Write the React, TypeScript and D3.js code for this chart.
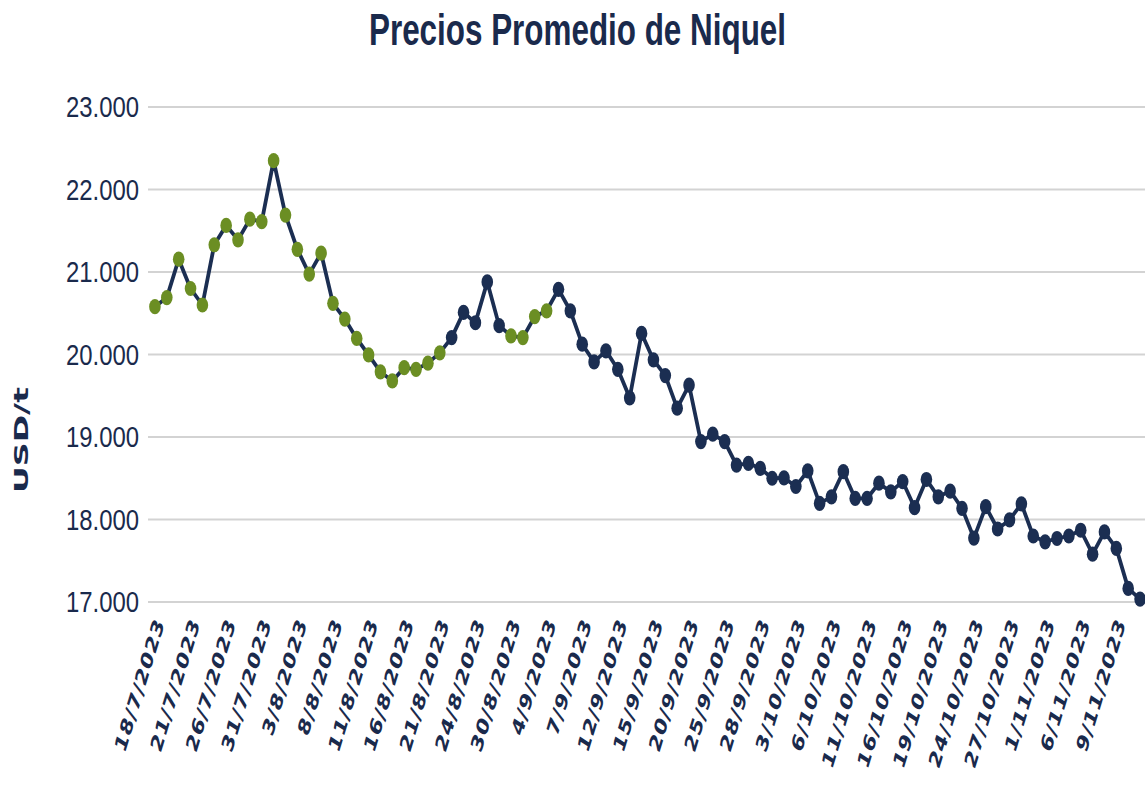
import React, { useEffect, useRef } from 'react';
import * as d3 from 'd3';

const dates = [
  '18/7/2023', '19/7/2023', '20/7/2023', '21/7/2023', '24/7/2023', '25/7/2023', '26/7/2023', '27/7/2023', '28/7/2023', '31/7/2023',
  '1/8/2023', '2/8/2023', '3/8/2023', '4/8/2023', '7/8/2023', '8/8/2023', '9/8/2023', '10/8/2023', '11/8/2023', '14/8/2023',
  '15/8/2023', '16/8/2023', '17/8/2023', '18/8/2023', '21/8/2023', '22/8/2023', '23/8/2023', '24/8/2023', '25/8/2023', '29/8/2023',
  '30/8/2023', '31/8/2023', '1/9/2023', '4/9/2023', '5/9/2023', '6/9/2023', '7/9/2023', '8/9/2023', '11/9/2023', '12/9/2023',
  '13/9/2023', '14/9/2023', '15/9/2023', '18/9/2023', '19/9/2023', '20/9/2023', '21/9/2023', '22/9/2023', '25/9/2023', '26/9/2023',
  '27/9/2023', '28/9/2023', '29/9/2023', '2/10/2023', '3/10/2023', '4/10/2023', '5/10/2023', '6/10/2023', '9/10/2023', '10/10/2023',
  '11/10/2023', '12/10/2023', '13/10/2023', '16/10/2023', '17/10/2023', '18/10/2023', '19/10/2023', '20/10/2023', '23/10/2023', '24/10/2023',
  '25/10/2023', '26/10/2023', '27/10/2023', '30/10/2023', '31/10/2023', '1/11/2023', '2/11/2023', '3/11/2023', '6/11/2023', '7/11/2023',
  '8/11/2023', '9/11/2023', '10/11/2023', '13/11/2023',
];

const prices = [
  20580, 20690, 21155, 20800, 20600, 21330, 21565, 21390, 21640, 21610,
  22350, 21690, 21275, 20975, 21230, 20620, 20430, 20195, 19995, 19790,
  19680, 19840, 19820, 19895, 20020, 20205, 20510, 20385, 20880, 20350,
  20225, 20205, 20460, 20530, 20790, 20530, 20125, 19910, 20045, 19820,
  19475, 20255, 19935, 19745, 19350, 19630, 18945, 19035, 18945, 18660,
  18680, 18620, 18500, 18505, 18400, 18590, 18195, 18275, 18580, 18255,
  18255, 18440, 18335, 18460, 18145, 18485, 18275, 18345, 18135, 17775,
  18155, 17885, 17995, 18190, 17800, 17730, 17770, 17800, 17870, 17580,
  17850, 17650, 17165, 17035,
];

// index ranges drawn with green markers
const greenSpans = [[0, 24], [30, 33]];

const yTicks = [17000, 18000, 19000, 20000, 21000, 22000, 23000];

const NAVY = '#1b2e52';
const GREEN = '#6b8e23';
const TEXT = '#1a2a4c';

const W = 1145;
const H = 790;

const App = () => {
  const ref = useRef<SVGSVGElement>(null);

  useEffect(() => {
    document.body.style.margin = '0';
    const svg = d3.select(ref.current);
    svg.selectAll('*').remove();

    const x = d3.scalePoint<string>().domain(dates).range([149, 1146]).padding(0.5);
    const y = d3.scaleLinear().domain([17000, 23000]).range([602, 107]);
    const fmt = d3.formatLocale({ decimal: ',', thousands: '.', grouping: [3], currency: ['$', ''] }).format(',');

    const isGreen = (i: number) => greenSpans.some(([a, b]) => i >= a && i <= b);

    // gridlines
    svg.append('g')
      .selectAll('line')
      .data(yTicks)
      .join('line')
      .attr('x1', 148)
      .attr('x2', W)
      .attr('y1', d => y(d))
      .attr('y2', d => y(d))
      .attr('stroke', '#d3d3d3')
      .attr('stroke-width', 2);

    // y tick labels
    svg.append('g')
      .selectAll('text')
      .data(yTicks)
      .join('text')
      .attr('x', 139)
      .attr('y', d => y(d) + 10)
      .attr('text-anchor', 'end')
      .attr('font-family', 'Liberation Sans, Arial, sans-serif')
      .attr('font-size', 29)
      .attr('textLength', 73)
      .attr('lengthAdjust', 'spacingAndGlyphs')
      .attr('fill', TEXT)
      .text(d => fmt(d));

    // y axis title
    svg.append('text')
      .attr('transform', 'translate(28,440) rotate(-90)')
      .attr('text-anchor', 'middle')
      .attr('font-family', 'DejaVu Sans, Verdana, sans-serif')
      .attr('font-weight', 'bold')
      .attr('font-size', 20)
      .attr('textLength', 106)
      .attr('lengthAdjust', 'spacingAndGlyphs')
      .attr('fill', TEXT)
      .text('USD/t');

    // x labels, every third trading day
    svg.append('g')
      .selectAll('text')
      .data(dates.filter((_, i) => i % 3 === 0))
      .join('text')
      .attr('transform', d => `translate(${(x(d) as number) + 10},623) scale(1,1.45) rotate(-66)`)
      .attr('text-anchor', 'end')
      .attr('font-family', 'DejaVu Sans, Verdana, sans-serif')
      .attr('font-weight', 'bold')
      .attr('font-size', 16.5)
      .attr('letter-spacing', 0.7)
      .attr('fill', TEXT)
      .text(d => d);

    // line
    const line = d3.line<number>()
      .x((_, i) => x(dates[i]) as number)
      .y(d => y(d));

    svg.append('path')
      .datum(prices)
      .attr('d', line)
      .attr('fill', 'none')
      .attr('stroke', NAVY)
      .attr('stroke-width', 3.8)
      .attr('stroke-linejoin', 'round');

    // markers
    svg.append('g')
      .selectAll('ellipse')
      .data(prices)
      .join('ellipse')
      .attr('cx', (_, i) => x(dates[i]) as number)
      .attr('cy', d => y(d))
      .attr('rx', 5.8)
      .attr('ry', 7.6)
      .attr('fill', (_, i) => (isGreen(i) ? GREEN : NAVY));

    // title
    svg.append('text')
      .attr('x', 577.5)
      .attr('y', 45)
      .attr('text-anchor', 'middle')
      .attr('font-family', 'Liberation Sans, Arial, sans-serif')
      .attr('font-weight', 'bold')
      .attr('font-size', 44)
      .attr('textLength', 417)
      .attr('lengthAdjust', 'spacingAndGlyphs')
      .attr('fill', TEXT)
      .text('Precios Promedio de Niquel');
  }, []);

  return <svg ref={ref} width={W} height={H} style={{ display: 'block', background: '#fff' }}></svg>;
};

export default App;
